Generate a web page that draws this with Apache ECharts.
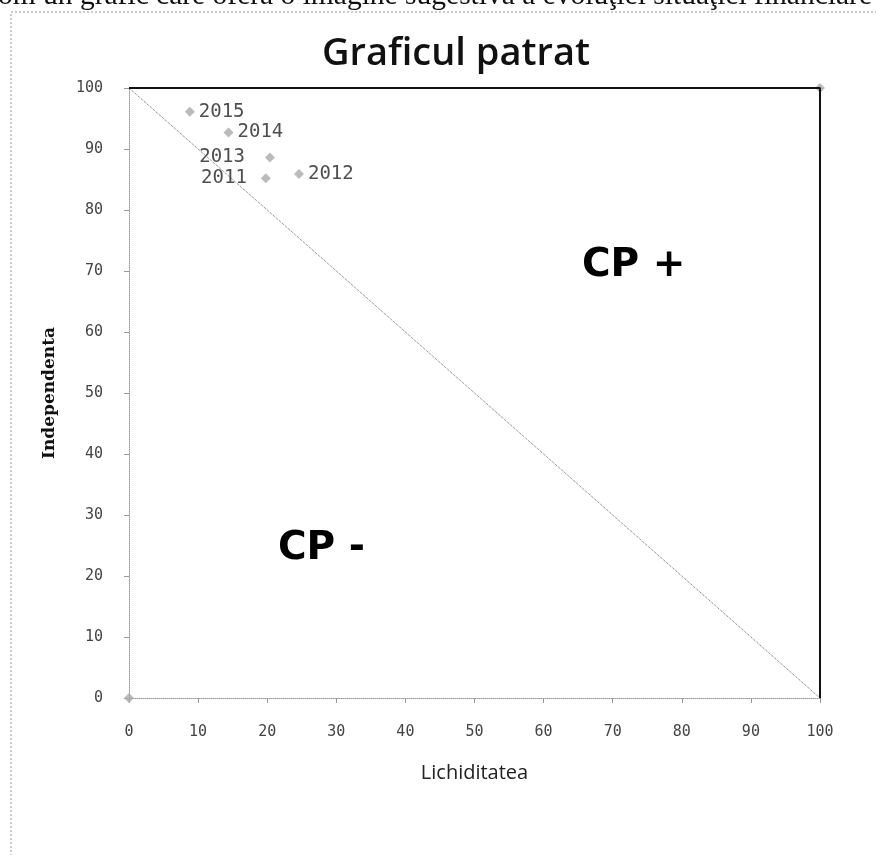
<!DOCTYPE html>
<html>
<head>
<meta charset="utf-8">
<script src="https://cdn.jsdelivr.net/npm/echarts@6/dist/echarts.min.js"></script>
<style>
  html, body { margin: 0; padding: 0; background: #fff; }
  #chart { width: 876px; height: 855px; }
</style>
</head>
<body>
<div id="chart"></div>
<script>
// date
var years = ['2011', '2012', '2013', '2014', '2015']
var lichiditate = [19.8, 24.6, 20.4, 14.4, 8.8]
var independenta = [85.2, 85.9, 88.6, 92.7, 96.1]
var labelPos = ['left', 'right', 'left', 'right', 'right']
var labelGap = [14, 4, 20, 4, 4]

var diagX = [0, 100]
var diagY = [100, 0]
var frameX = [0, 100, 100]
var frameY = [100, 100, 0]
var cornerX = [0, 100]
var cornerY = [0, 100]

function pairs(xs, ys) {
  return xs.map(function (x, i) { return [x, ys[i]] })
}

var myChart = echarts.init(document.getElementById('chart'))
var tickFont = { fontFamily: 'DejaVu Sans Mono', fontSize: 15, color: '#444' }

var option = {
  animation: false,
  backgroundColor: '#fff',
  grid: { left: 129, right: 56, top: 88, bottom: 157 },
  graphic: [
    {
      type: 'text', x: -2, y: 11,
      style: { text: 'om un grafic care oferă o imagine sugestivă a evoluţiei situaţiei financiare', font: '29.5px "Liberation Serif"', fill: '#111', verticalAlign: 'bottom' }
    },
    {
      type: 'rect', shape: { x: 11, y: 12, width: 900, height: 900 },
      style: { fill: 'none', stroke: '#999', lineWidth: 1, lineDash: [2, 2] }
    },
    {
      type: 'text', x: 456, y: 54,
      style: { text: 'Graficul patrat', font: '600 38px "Open Sans"', fill: '#111', align: 'center', verticalAlign: 'middle' }
    },
    {
      type: 'text', x: 582, y: 266,
      style: { text: 'CP +', font: 'bold 39px "DejaVu Sans"', fill: '#000', verticalAlign: 'middle' }
    },
    {
      type: 'text', x: 278, y: 549,
      style: { text: 'CP -', font: 'bold 39px "DejaVu Sans"', fill: '#000', verticalAlign: 'middle' }
    }
  ],
  xAxis: {
    type: 'value', min: 0, max: 100, interval: 10,
    name: 'Lichiditatea', nameLocation: 'middle', nameGap: 65,
    nameTextStyle: { fontFamily: 'Open Sans', fontSize: 20, color: '#222' },
    axisLine: { show: true, lineStyle: { color: '#999', type: 'dotted', width: 1 } },
    axisTick: { show: true, length: 5, lineStyle: { color: '#999' } },
    axisLabel: Object.assign({ margin: 27 }, tickFont),
    splitLine: { show: false }
  },
  yAxis: {
    type: 'value', min: 0, max: 100, interval: 10,
    name: 'Independenta', nameLocation: 'middle', nameGap: 71,
    nameTextStyle: { fontFamily: 'DejaVu Serif', fontSize: 17, fontWeight: 'bold', color: '#111' },
    axisLine: { show: true, lineStyle: { color: '#999', type: 'dotted', width: 1 } },
    axisTick: { show: true, length: 5, lineStyle: { color: '#999' } },
    axisLabel: Object.assign({ margin: 26 }, tickFont),
    splitLine: { show: false }
  },
  series: [
    {
      type: 'line', data: pairs(diagX, diagY), symbol: 'none',
      lineStyle: { color: '#666', width: 1, type: 'dotted' }
    },
    {
      type: 'line', data: pairs(frameX, frameY), symbol: 'none',
      lineStyle: { color: '#111', width: 2 }
    },
    {
      type: 'scatter', data: pairs(cornerX, cornerY), symbol: 'diamond', symbolSize: 10,
      itemStyle: { color: '#aaa' }
    },
    {
      type: 'scatter', symbol: 'diamond', symbolSize: 10,
      itemStyle: { color: '#aaa' },
      data: years.map(function (y, i) {
        return {
          name: y, value: [lichiditate[i], independenta[i]],
          label: { show: true, position: labelPos[i], formatter: y,
            distance: labelGap[i],
            fontFamily: 'DejaVu Sans Mono', fontSize: 19, color: '#222' }
        }
      })
    }
  ]
}
myChart.setOption(option)
</script>
</body>
</html>
